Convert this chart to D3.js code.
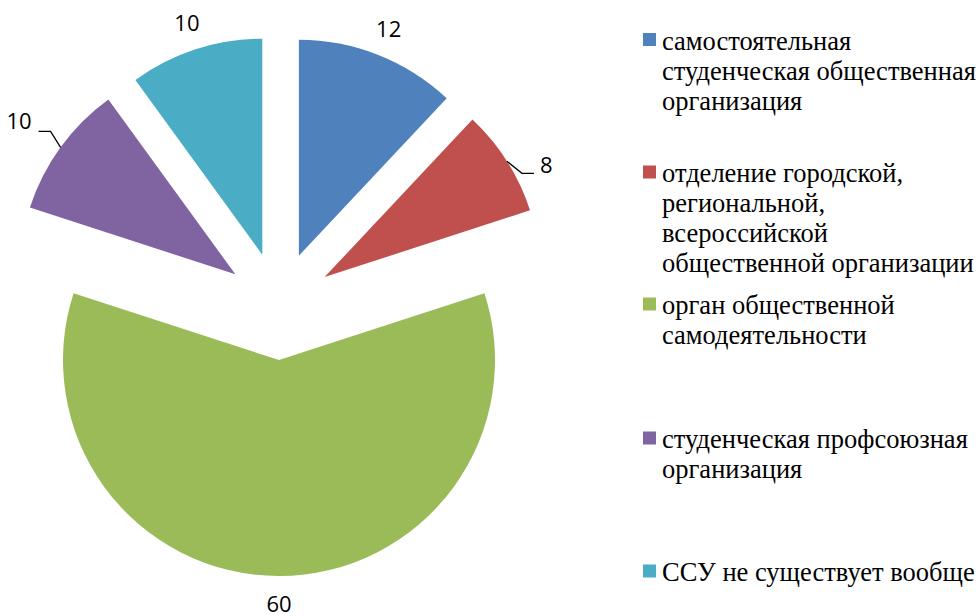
<!DOCTYPE html>
<html>
<head>
<meta charset="utf-8">
<script src="https://cdn.jsdelivr.net/npm/d3@7"></script>
<style>
  body { margin: 0; background: #fff; }
  svg { display: block; }
</style>
</head>
<body>
<script>
var categories = [
  ["самостоятельная", "студенческая общественная", "организация"],
  ["отделение городской,", "региональной,", "всероссийской", "общественной организации"],
  ["орган общественной", "самодеятельности"],
  ["студенческая профсоюзная", "организация"],
  ["ССУ не существует вообще"]
];
var values = [12, 8, 60, 10, 10];
var colors = ["#4F81BD", "#C0504D", "#9BBB59", "#8064A2", "#4BACC6"];

var width = 980,
  height = 616,
  cx = 279, cy = 306,
  radius = 216,
  explode = 54;

var svg = d3.select("body").append("svg")
  .attr("width", width)
  .attr("height", height);

var pie = d3.pie().sort(null).value(function(d){ return d; });
var arcs = pie(values);
var arc = d3.arc().innerRadius(0).outerRadius(radius);

function mid(d) { return (d.startAngle + d.endAngle) / 2; }
function polar(a, r) { return [Math.sin(a) * r, -Math.cos(a) * r]; }

var g = svg.append("g").attr("transform", "translate(" + cx + "," + cy + ")");

var slices = g.selectAll("g.slice")
  .data(arcs)
  .enter().append("g")
  .attr("class", "slice")
  .attr("transform", function(d){ var p = polar(mid(d), explode); return "translate(" + p[0] + "," + p[1] + ")"; });

slices.append("path")
  .attr("d", arc)
  .attr("fill", function(d, i){ return colors[i]; });

// data labels; the two side ones sit off the slice with a leader line
slices.each(function(d, i) {
  var s = d3.select(this), a = mid(d);
  var t;
  if (i == 1 || i == 3) {
    var right = i == 1,
      p0 = polar(a, radius),
      p1 = right ? [p0[0] + 15, p0[1] + 12] : [p0[0] - 10, p0[1] - 16],
      p2 = [p1[0] + (right ? 12 : -12), p1[1]];
    s.append("path")
      .attr("d", "M" + p0 + "L" + p1 + "L" + p2)
      .attr("fill", "none")
      .attr("stroke", "#000")
      .attr("stroke-width", 1.3);
    t = s.append("text")
      .attr("x", p2[0] + (right ? 6 : -7))
      .attr("y", p2[1] + (right ? 0 : -2))
      .attr("text-anchor", right ? "start" : "end");
  } else {
    var p = polar(a, radius + 28);
    t = s.append("text")
      .attr("x", p[0])
      .attr("y", p[1] + 8)
      .attr("text-anchor", "middle");
  }
  t.style("font-family", "'Open Sans'")
    .style("font-size", "22px")
    .text(values[i]);
});

// legend
var legendY = [39.5, 172, 304, 438, 571],
  lineH = 30;

var legend = svg.append("g").attr("class", "legend");
var items = legend.selectAll("g")
  .data(categories)
  .enter().append("g")
  .attr("transform", function(d, i){ return "translate(643," + legendY[i] + ")"; });

items.append("rect")
  .attr("x", 0).attr("y", -6.5)
  .attr("width", 13).attr("height", 13)
  .attr("fill", function(d, i){ return colors[i]; });

// one text per line, so every line gets the serif face directly
items.selectAll("text")
  .data(function(d){ return d; })
  .enter().append("text")
  .attr("x", 19)
  .attr("y", function(d, j){ return j * lineH + 10; })
  .attr("fill", "#000")
  .style("font-family", "'Liberation Serif'")
  .style("font-size", "26.5px")
  .text(function(d){ return d; });
</script>
</body>
</html>
